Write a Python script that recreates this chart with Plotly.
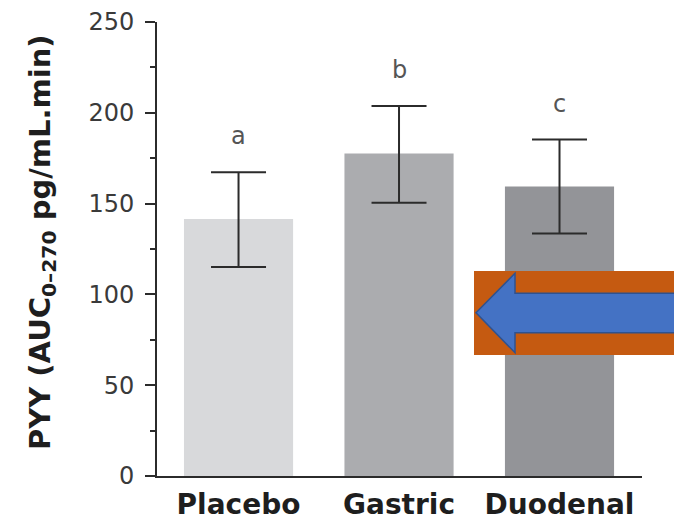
import plotly.graph_objects as go

# PYY area under the curve by treatment group
categories = ["Placebo", "Gastric", "Duodenal"]
means = [141.5, 177.6, 159.4]
err_up = [25.8, 26.1, 25.9]
err_down = [26.4, 27.2, 25.9]
letters = ["a", "b", "c"]
bar_colors = ["#D8D9DB", "#ABACAF", "#939498"]

W, H = 674, 521
M_L, M_R, M_T, M_B = 157, 32, 22, 45
PW, PH = W - M_L - M_R, H - M_T - M_B


def px_to_paper(px, py):
    """Convert figure pixel position to paper coordinates."""
    return (px - M_L) / PW, (H - M_B - py) / PH


fig = go.Figure()
fig.add_trace(go.Bar(
    x=list(range(len(categories))),
    y=means,
    width=0.68,
    marker=dict(color=bar_colors, line=dict(width=0)),
    error_y=dict(type="data", symmetric=False, array=err_up, arrayminus=err_down,
                 color="#2b2b2b", thickness=2, width=27.5),
    showlegend=False,
))

# significance letters above each error bar
for i, (m, e, lt) in enumerate(zip(means, err_up, letters)):
    fig.add_annotation(x=i, y=m + e, text=lt, showarrow=False, yanchor="middle",
                       yshift=36, font=dict(family="DejaVu Sans", size=24, color="#555555"))

# vertical axis title
tx, ty = px_to_paper(42, 242)
fig.add_annotation(
    xref="paper", yref="paper", x=tx, y=ty, xanchor="center", yanchor="middle",
    textangle=-90, showarrow=False,
    text="<b>PYY (AUC<sub>0–270</sub> pg/mL.min)</b>",
    font=dict(family="DejaVu Sans", size=29, color="#1e1e1e"),
)

# orange panel with blue left-pointing arrow
x0, y1 = px_to_paper(474, 271)
x1, y0 = px_to_paper(676, 355)
fig.add_shape(type="rect", xref="paper", yref="paper", x0=x0, x1=x1, y0=y0, y1=y1,
              fillcolor="#C55A11", line=dict(width=0), layer="above")

arrow_px = [(476, 312.7), (515, 273.3), (515, 293.3), (680, 293.3),
            (680, 332.7), (515, 332.7), (515, 352.7)]
pts = [px_to_paper(a, b) for a, b in arrow_px]
path = "M " + " L ".join(f"{a:.5f},{b:.5f}" for a, b in pts) + " Z"
fig.add_shape(type="path", xref="paper", yref="paper", path=path,
              fillcolor="#4472C4", line=dict(color="#2F528F", width=1.5), layer="above")

fig.update_layout(
    width=W, height=H,
    margin=dict(l=M_L, r=M_R, t=M_T, b=M_B, pad=0),
    plot_bgcolor="white", paper_bgcolor="white",
)
fig.update_xaxes(
    range=[-0.508, 2.514], tickmode="array",
    tickvals=list(range(len(categories))),
    ticktext=[f"<b>{c}</b>" for c in categories],
    showline=True, linecolor="#2b2b2b", linewidth=2, ticks="",
    showgrid=False, zeroline=False, automargin=False,
    tickfont=dict(family="DejaVu Sans", size=28, color="#1e1e1e"),
    ticklabelstandoff=2,
)
fig.update_yaxes(
    range=[0, 250], tickvals=[0, 50, 100, 150, 200, 250],
    showline=True, linecolor="#2b2b2b", linewidth=2,
    ticks="outside", ticklen=10, tickwidth=2, tickcolor="#2b2b2b",
    minor=dict(dtick=25, ticks="outside", ticklen=5, tickwidth=2, tickcolor="#2b2b2b"),
    showgrid=False, zeroline=False, automargin=False,
    tickfont=dict(family="DejaVu Sans", size=24, color="#3a3a3a"),
    ticklabelstandoff=6,
)

fig.write_html("out.html")
